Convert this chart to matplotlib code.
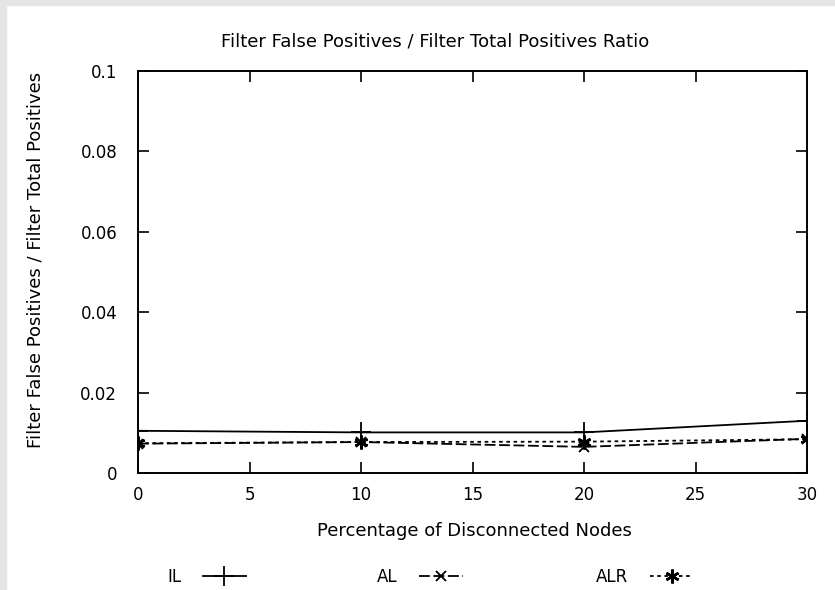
import matplotlib.pyplot as plt
from matplotlib.patches import Rectangle

plt.rcParams['font.family'] = ['DejaVu Sans']

x = [0, 10, 20, 30]
il = [0.0105, 0.0101, 0.0101, 0.0130]
al = [0.0073, 0.0077, 0.0065, 0.0085]
alr = [0.0074, 0.0077, 0.0078, 0.0084]

xticks = [0, 5, 10, 15, 20, 25, 30]
yticks = [0, 0.02, 0.04, 0.06, 0.08, 0.1]
ytick_labels = ['0', '0.02', '0.04', '0.06', '0.08', '0.1']

W, H = 835, 590
fig = plt.figure(figsize=(W / 100, H / 100), dpi=100)
# light gray strip along the top and left edges
fig.patches.append(Rectangle((0, 1 - 5 / H), 1, 5 / H, transform=fig.transFigure,
                             color='#e4e4e4', zorder=0))
fig.patches.append(Rectangle((0, 0), 6 / W, 1, transform=fig.transFigure,
                             color='#e4e4e4', zorder=0))

ax = fig.add_axes([138 / W, 1 - 473 / H, 669 / W, 402 / H])

l1, = ax.plot(x, il, color='black', lw=1.3, marker='+', ms=14, mew=1.3, label='IL')
l2, = ax.plot(x, al, color='black', lw=1.3, ls=(0, (6, 2)), marker='x', ms=7, mew=1.3,
              label='AL')
l3, = ax.plot(x, alr, color='black', lw=1.3, ls=(0, (2, 2)), marker=(6, 2, 0), ms=10,
              mew=1.8, label='ALR')

ax.set_xlim(0, 30)
ax.set_ylim(0, 0.1)
ax.set_xticks(xticks)
ax.set_yticks(yticks)
ax.set_yticklabels(ytick_labels)
ax.tick_params(direction='in', length=8, width=1.2, top=True, right=True,
               labelsize=12, colors='black')
ax.tick_params(axis='y', pad=15)
ax.tick_params(axis='x', pad=9)
for s in ax.spines.values():
    s.set_linewidth(1.4)

fs = 13
fig.text(435 / W, 1 - 41 / H, 'Filter False Positives / Filter Total Positives Ratio',
         fontsize=fs, ha='center', va='center')
fig.text(474 / W, 1 - 531 / H, 'Percentage of Disconnected Nodes',
         fontsize=fs, ha='center', va='center')
fig.text(36 / W, 1 - 260 / H, 'Filter False Positives / Filter Total Positives',
         fontsize=fs, ha='center', va='center', rotation=90)

# three legend entries, each sitting where the reference puts it
for handle, xpos in [(l1, 167), (l2, 377), (l3, 596)]:
    fig.legend(handles=[handle], loc='center left', bbox_to_anchor=(xpos / W, 1 - 577 / H),
               frameon=False, markerfirst=False, fontsize=12, handlelength=2.6,
               handletextpad=1.3, borderpad=0, borderaxespad=0)

fig.savefig('out.png', dpi=100)
